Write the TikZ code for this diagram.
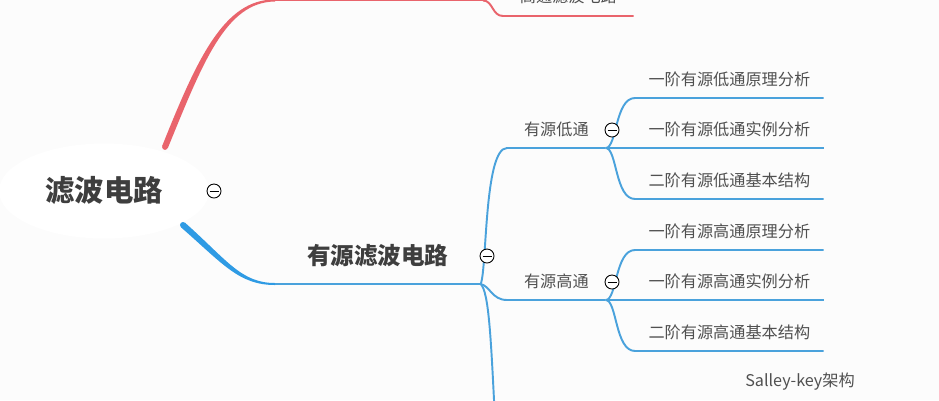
\documentclass[tikz,border=0pt]{standalone}
\usepackage{fontspec}
\usepackage{tikz}
\usetikzlibrary{shapes.geometric}
\newfontfamily\cjk{Noto Sans CJK SC}
\definecolor{redbr}{HTML}{E9646C}
\definecolor{bluebr}{HTML}{2F9BE4}
\definecolor{bluesub}{HTML}{4AA2DC}
\definecolor{ink}{HTML}{3E3E3E}
\definecolor{inklight}{HTML}{505050}
\definecolor{paper}{HTML}{FCFCFC}

\tikzset{
  rootnode/.style={ellipse, fill=white, minimum width=4.2cm, minimum height=1.9cm, text=ink,
    font=\cjk\bfseries\fontsize{16.7}{19}\selectfont},
  topic/.style={anchor=south west, inner sep=0pt, minimum width=4.1cm, minimum height=1.12cm,
    text=ink, font=\cjk\bfseries\fontsize{13.4}{15}\selectfont},
  subtopic/.style={anchor=south west, inner sep=0pt, minimum width=1.96cm, minimum height=0.72cm,
    text=inklight, font=\cjk\fontsize{9.2}{11}\selectfont},
  leaf/.style={anchor=south west, inner sep=0pt, minimum width=3.76cm, minimum height=0.72cm,
    text=inklight, font=\cjk\fontsize{9.2}{11}\selectfont},
  fold/.style={circle, draw=black, line width=0.5pt, fill=white, minimum size=0.28cm, inner sep=0pt,
    path picture={\draw[line width=0.5pt] ([xshift=-0.09cm]path picture bounding box.center)
      -- ([xshift=0.09cm]path picture bounding box.center);}},
  redline/.style={draw=redbr, line width=1.1pt},
  blueline/.style={draw=bluesub, line width=1.1pt}
}

\begin{document}
\begin{tikzpicture}[x=0.02cm, y=-0.02cm]
  \fill[paper] (0,0) rectangle (939,400);
  \clip (0,0) rectangle (939,400);

  \node[rootnode] (root) at (104,191) {滤波电路};
  \node[fold] (f0) at (214,191) {};

  % red branch
  \coordinate (rs) at (165,147);
  \coordinate (pj) at (483,0.5);
  \fill[redbr] (162.2,145.9) .. controls (197,59) and (224,-1) .. (275,-0.5) -- (275,1.5)
    .. controls (226,2) and (203,62) .. (167.8,148.1) -- cycle;
  \fill[redbr] (rs) circle (2.9);
  \draw[redline] (275,0.5) -- (pj);
  \node[leaf, minimum width=2.6cm, minimum height=0.76cm] (gt) at (503,16) {高通滤波电路};
  \draw[redline] (pj) .. controls (493,0.5) and (492,16) .. (gt.south west) -- (gt.south east);

  % blue branch
  \coordinate (bs) at (183,225);
  \fill[bluebr] (185,222.7) .. controls (227,260) and (241,283) .. (275,283) -- (275,285)
    .. controls (239,285) and (223,264) .. (181,227.3) -- cycle;
  \fill[bluebr] (bs) circle (3);
  \node[topic] (src) at (275,284) {有源滤波电路};
  \draw[blueline] (src.south west) -- (src.south east);

  \node[subtopic] (lp) at (507,148) {有源低通};
  \node[subtopic] (hp) at (507,300) {有源高通};
  \coordinate (below) at (495,420);
  \draw[blueline] (src.south east) .. controls (487,270) and (484,148) .. (lp.south west) -- (lp.south east);
  \draw[blueline] (src.south east) .. controls (490,286) and (492,300) .. (hp.south west) -- (hp.south east);
  \draw[blueline] (src.south east) .. controls (489,292) and (491,340) .. (below);

  \foreach \n/\y/\t in {1/98/一阶有源低通原理分析, 2/148/一阶有源低通实例分析, 3/199/二阶有源低通基本结构}{
    \node[leaf] (lp\n) at (635,\y) {\t};
    \draw[blueline] (lp.south east) .. controls (617,148) and (615,\y) .. (lp\n.south west) -- (lp\n.south east);
  }
  \foreach \n/\y/\t in {1/250/一阶有源高通原理分析, 2/300/一阶有源高通实例分析, 3/351/二阶有源高通基本结构}{
    \node[leaf] (hp\n) at (635,\y) {\t};
    \draw[blueline] (hp.south east) .. controls (617,300) and (615,\y) .. (hp\n.south west) -- (hp\n.south east);
  }

  \node[text=inklight, font=\cjk\fontsize{9.2}{11}\selectfont] (sk) at (800,382) {Salley-key架构};

  \node[fold] (f1) at (487,256) {};
  \node[fold] (f2) at (612,130) {};
  \node[fold] (f3) at (612,282) {};
\end{tikzpicture}
\end{document}
